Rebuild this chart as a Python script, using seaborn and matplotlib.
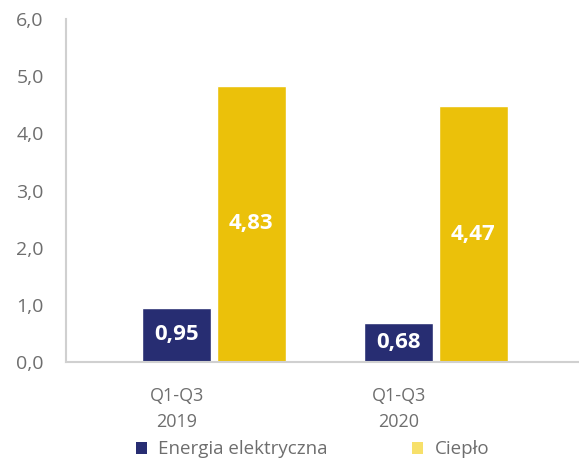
import matplotlib
matplotlib.use("Agg")
import matplotlib.pyplot as plt
import seaborn as sns
import pandas as pd
from matplotlib.patches import Patch

categories = ["Q1-Q3\n2019", "Q1-Q3\n2020"]
series_names = ["Energia elektryczna", "Ciepło"]
energia = [0.95, 0.68]
cieplo = [4.83, 4.47]
y_ticks = [0, 1, 2, 3, 4, 5, 6]

colors = ["#272D72", "#EBC10A"]
legend_colors = ["#272D72", "#F7E06A"]

df = pd.DataFrame({
    "cat": categories * 2,
    "series": [series_names[0]] * 2 + [series_names[1]] * 2,
    "value": energia + cieplo,
})

sns.set_style("white")
plt.rcParams["font.family"] = ["Open Sans", "DejaVu Sans"]

fig = plt.figure(figsize=(5.79, 4.59), dpi=100)
ax = fig.add_axes([0.114, 0.2113, 0.886, 0.7473])

sns.barplot(data=df, x="cat", y="value", hue="series", palette=colors,
            width=0.672, gap=0.075, ax=ax, legend=False, saturation=1)

for cont in ax.containers:
    for bar in cont:
        h = bar.get_height()
        ax.text(bar.get_x() + bar.get_width() / 2, h / 2,
                f"{h:.2f}".replace(".", ","),
                ha="center", va="center", color="white",
                fontsize=16, fontweight="bold")

ax.set_ylim(0, 6)
ax.set_xlim(-0.667, 1.644)
ax.set_yticks(y_ticks)
ax.set_yticklabels([f"{t:.1f}".replace(".", ",") for t in y_ticks])

# category labels sit under the first bar of each group
first = ax.containers[0]
ax.set_xticks([b.get_x() + b.get_width() / 2 for b in first])
ax.set_xticklabels(categories)

ax.set_xlabel("")
ax.set_ylabel("")
ax.tick_params(axis="both", colors="#6E6E6E", length=0)
ax.tick_params(axis="y", pad=16, labelsize=14)
ax.tick_params(axis="x", pad=18, labelsize=13)
for lbl in ax.get_xticklabels():
    lbl.set_linespacing(1.6)

for s in ["top", "right"]:
    ax.spines[s].set_visible(False)
for s in ["left", "bottom"]:
    ax.spines[s].set_color("#D0D0D0")
    ax.spines[s].set_linewidth(1.5)

handles = [Patch(facecolor=c, edgecolor="none") for c in legend_colors]
leg = fig.legend(handles, series_names, loc="lower left",
                 bbox_to_anchor=(0.205, -0.035), ncol=2, frameon=False,
                 fontsize=13.5, handlelength=0.6, handleheight=0.6,
                 handletextpad=0.6, columnspacing=4.5, labelcolor="#6E6E6E")

fig.savefig("out.png", dpi=100)
